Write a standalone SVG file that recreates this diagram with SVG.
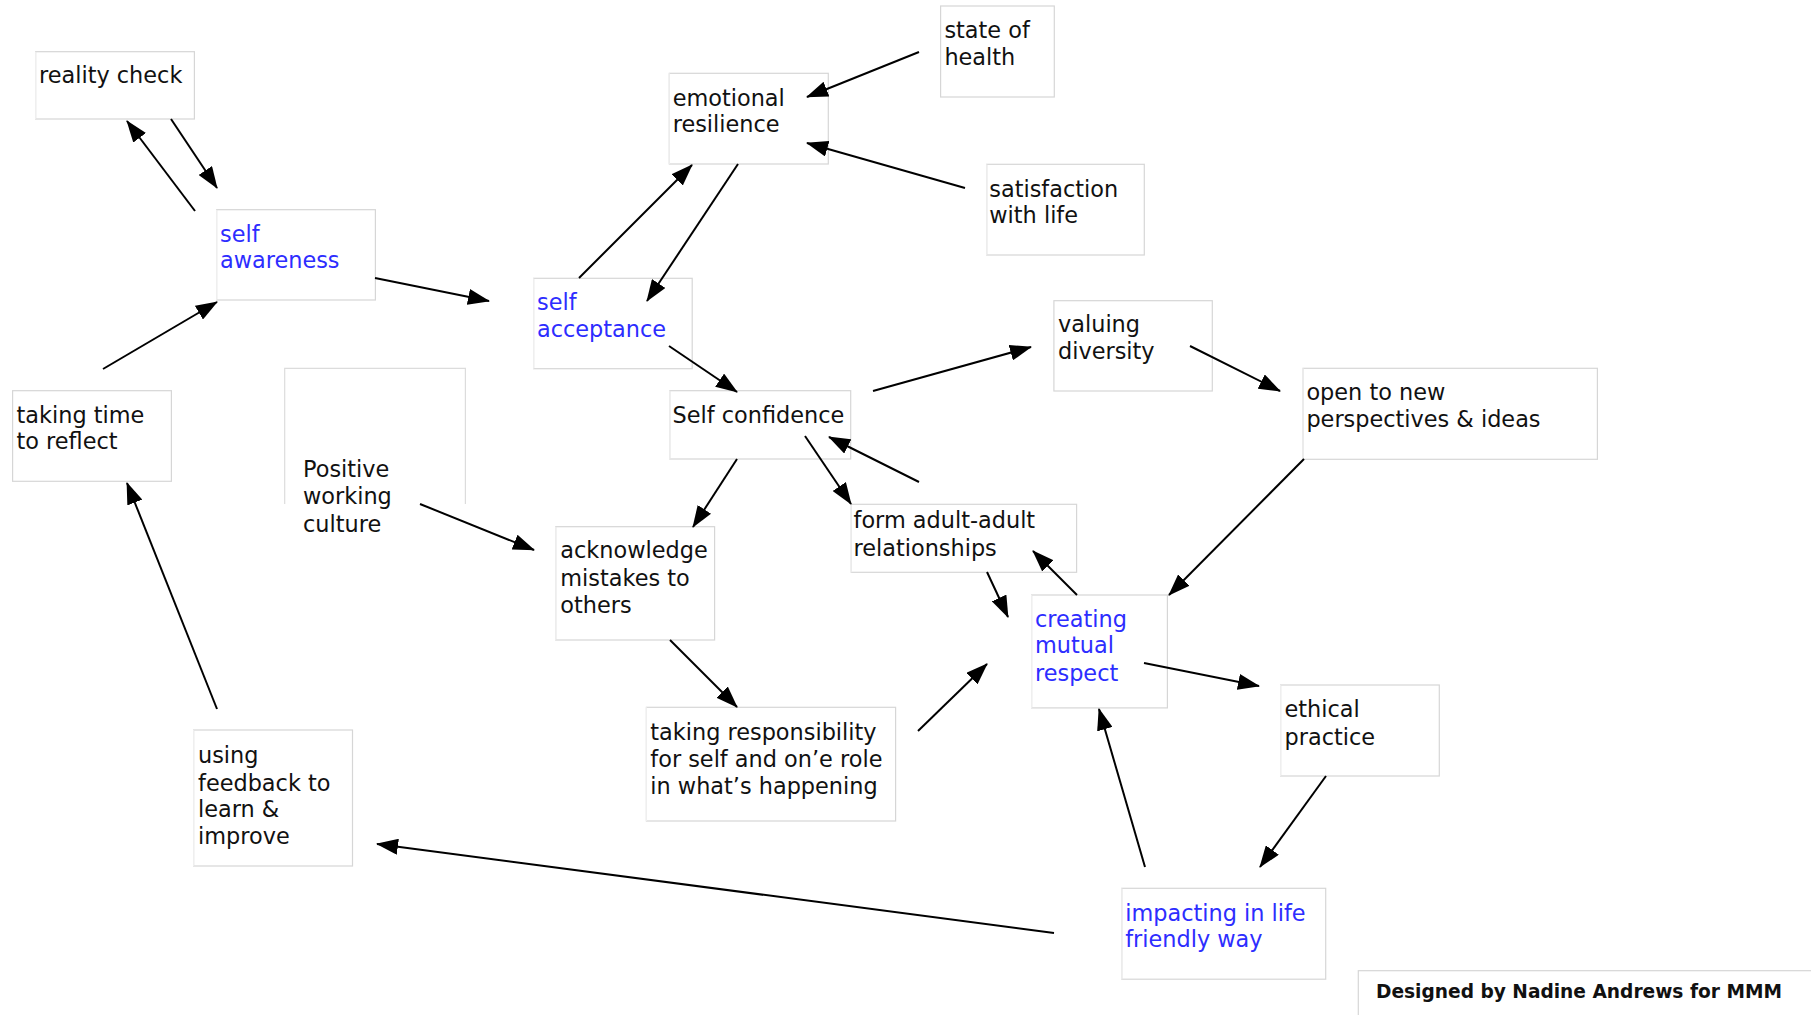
<svg xmlns="http://www.w3.org/2000/svg" width="1811" height="1015" viewBox="0 0 1811 1015">
<defs>
<marker id="ah" markerUnits="userSpaceOnUse" markerWidth="22" markerHeight="16" refX="21" refY="8" orient="auto">
<path d="M0,0 L22,8 L0,16 z" fill="#000"/>
</marker>
<style>
.bx{fill:#fff;stroke:#d6d6d6;stroke-width:1.2}
.lf{stroke:#efefef;stroke-width:1.2}
.t{font-family:"DejaVu Sans","Verdana",sans-serif;font-size:22.4px;fill:#111}
.b{fill:#2d2dff}
.c line{stroke:#000;stroke-width:2;marker-end:url(#ah)}
</style>
</defs>
<rect width="1811" height="1015" fill="#fff"/>

<g id="nodes">
<g id="reality-check"><rect class="bx" x="35.6" y="51.7" width="158.8" height="67.3"/><line class="lf" x1="35.6" y1="51.7" x2="35.6" y2="119"/><text class="t" x="39" y="83">reality check</text></g>
<g id="self-awareness"><rect class="bx" x="216.6" y="209.7" width="158.8" height="90.3"/><line class="lf" x1="216.6" y1="209.7" x2="216.6" y2="300"/><text class="t b" x="220" y="242">self</text><text class="t b" x="220" y="268">awareness</text></g>
<g id="taking-time"><rect class="bx" x="12.6" y="390.7" width="158.8" height="90.6"/><text class="t" x="16.5" y="422.7">taking time</text><text class="t" x="16.5" y="449.3">to reflect</text></g>
<g id="positive-culture"><path d="M284.7,504 V368.3 H465.4 V504" fill="#fff" stroke="#dcdcdc" stroke-width="1.2"/><text class="t" x="303" y="476.7">Positive</text><text class="t" x="303" y="504">working</text><text class="t" x="303" y="531.7">culture</text></g>
<g id="using-feedback"><rect class="bx" x="193.6" y="730" width="158.9" height="136"/><line class="lf" x1="193.6" y1="730" x2="193.6" y2="866"/><text class="t" x="198" y="763.3">using</text><text class="t" x="198" y="790.7">feedback to</text><text class="t" x="198" y="817.3">learn &amp;</text><text class="t" x="198" y="844">improve</text></g>
<g id="self-acceptance"><rect class="bx" x="533.6" y="278.3" width="158.6" height="90.4"/><line class="lf" x1="533.6" y1="278.3" x2="533.6" y2="368.7"/><text class="t b" x="537" y="310">self</text><text class="t b" x="537" y="336.7">acceptance</text></g>
<g id="emotional-resilience"><rect class="bx" x="669.3" y="73.3" width="159" height="90.7"/><line class="lf" x1="669.3" y1="73.3" x2="669.3" y2="164"/><text class="t" x="672.7" y="105.7">emotional</text><text class="t" x="672.7" y="132.3">resilience</text></g>
<g id="state-of-health"><rect class="bx" x="940.6" y="6" width="113.7" height="91"/><text class="t" x="944.4" y="38.3">state of</text><text class="t" x="944.4" y="65">health</text></g>
<g id="satisfaction"><rect class="bx" x="986.7" y="164.3" width="157.6" height="90.7"/><line class="lf" x1="986.7" y1="164.3" x2="986.7" y2="255"/><text class="t" x="989.3" y="196.7">satisfaction</text><text class="t" x="989.3" y="223.3">with life</text></g>
<g id="self-confidence"><rect class="bx" x="669.8" y="390.7" width="180.9" height="68.3"/><line class="lf" x1="669.8" y1="390.7" x2="669.8" y2="459"/><text class="t" x="672.5" y="423.3">Self confidence</text></g>
<g id="valuing-diversity"><rect class="bx" x="1053.9" y="300.7" width="158.4" height="90.3"/><text class="t" x="1058" y="332.3">valuing</text><text class="t" x="1058" y="359">diversity</text></g>
<g id="open-perspectives"><rect class="bx" x="1303" y="368.3" width="294.4" height="91"/><line class="lf" x1="1303" y1="368.3" x2="1303" y2="459.3"/><text class="t" x="1306.4" y="400">open to new</text><text class="t" x="1306.4" y="426.7">perspectives &amp; ideas</text></g>
<g id="acknowledge"><rect class="bx" x="555.7" y="526.7" width="158.9" height="113.3"/><line class="lf" x1="555.7" y1="526.7" x2="555.7" y2="640"/><text class="t" x="560.3" y="558.3">acknowledge</text><text class="t" x="560.3" y="585.7">mistakes to</text><text class="t" x="560.3" y="613.3">others</text></g>
<g id="form-adult"><rect class="bx" x="851.2" y="504.3" width="225.4" height="68"/><line class="lf" x1="851.2" y1="504.3" x2="851.2" y2="572.3"/><text class="t" x="853.5" y="528.3">form adult-adult</text><text class="t" x="853.5" y="556">relationships</text></g>
<g id="mutual-respect"><rect class="bx" x="1031.6" y="595" width="135.8" height="112.9"/><line class="lf" x1="1031.6" y1="595" x2="1031.6" y2="707.9"/><text class="t b" x="1035" y="626.7">creating</text><text class="t b" x="1035" y="653.3">mutual</text><text class="t b" x="1035" y="680.7">respect</text></g>
<g id="taking-responsibility"><rect class="bx" x="646.4" y="707.3" width="249.2" height="113.7"/><line class="lf" x1="646.4" y1="707.3" x2="646.4" y2="821"/><text class="t" x="650.3" y="740">taking responsibility</text><text class="t" x="650.3" y="766.7">for self and on’e role</text><text class="t" x="650.3" y="794.3">in what’s happening</text></g>
<g id="ethical-practice"><rect class="bx" x="1280.6" y="685" width="158.7" height="91"/><line class="lf" x1="1280.6" y1="685" x2="1280.6" y2="776"/><text class="t" x="1284.5" y="716.7">ethical</text><text class="t" x="1284.5" y="745">practice</text></g>
<g id="impacting"><rect class="bx" x="1121.8" y="888.3" width="203.9" height="90.9"/><line class="lf" x1="1121.8" y1="888.3" x2="1121.8" y2="979.2"/><text class="t b" x="1125.2" y="920.7">impacting in life</text><text class="t b" x="1125.2" y="946.7">friendly way</text></g>
<g id="credit"><rect class="bx" x="1358.3" y="970.7" width="460" height="60"/><text x="1376" y="998.3" font-family="DejaVu Sans, Verdana, sans-serif" font-size="18.6" font-weight="bold" fill="#111">Designed by Nadine Andrews for MMM</text></g>
</g>

<g id="connectors" class="c">
<line x1="195" y1="211" x2="127" y2="121"/>
<line x1="171" y1="119" x2="217" y2="188"/>
<line x1="375" y1="278" x2="489" y2="301"/>
<line x1="103" y1="369" x2="217" y2="302"/>
<line x1="579" y1="278" x2="692" y2="165"/>
<line x1="738" y1="164" x2="647" y2="301"/>
<line x1="919" y1="52" x2="807" y2="97"/>
<line x1="965" y1="188" x2="807" y2="143"/>
<line x1="669" y1="346" x2="737" y2="392"/>
<line x1="873" y1="391" x2="1031" y2="347"/>
<line x1="1190" y1="346" x2="1280" y2="391"/>
<line x1="1304" y1="459" x2="1169" y2="595"/>
<line x1="737" y1="459" x2="693" y2="527"/>
<line x1="805" y1="436" x2="851" y2="504"/>
<line x1="919" y1="482" x2="829" y2="437"/>
<line x1="987" y1="572" x2="1008" y2="617"/>
<line x1="1077" y1="595" x2="1033" y2="551"/>
<line x1="420" y1="504" x2="534" y2="550"/>
<line x1="670" y1="640" x2="737" y2="707"/>
<line x1="918" y1="731" x2="987" y2="664"/>
<line x1="1144" y1="663" x2="1259" y2="686"/>
<line x1="1326" y1="776" x2="1260" y2="867"/>
<line x1="1145" y1="867" x2="1099" y2="709"/>
<line x1="1054" y1="933" x2="377" y2="844"/>
<line x1="217" y1="709" x2="127" y2="483"/>
</g>
</svg>
